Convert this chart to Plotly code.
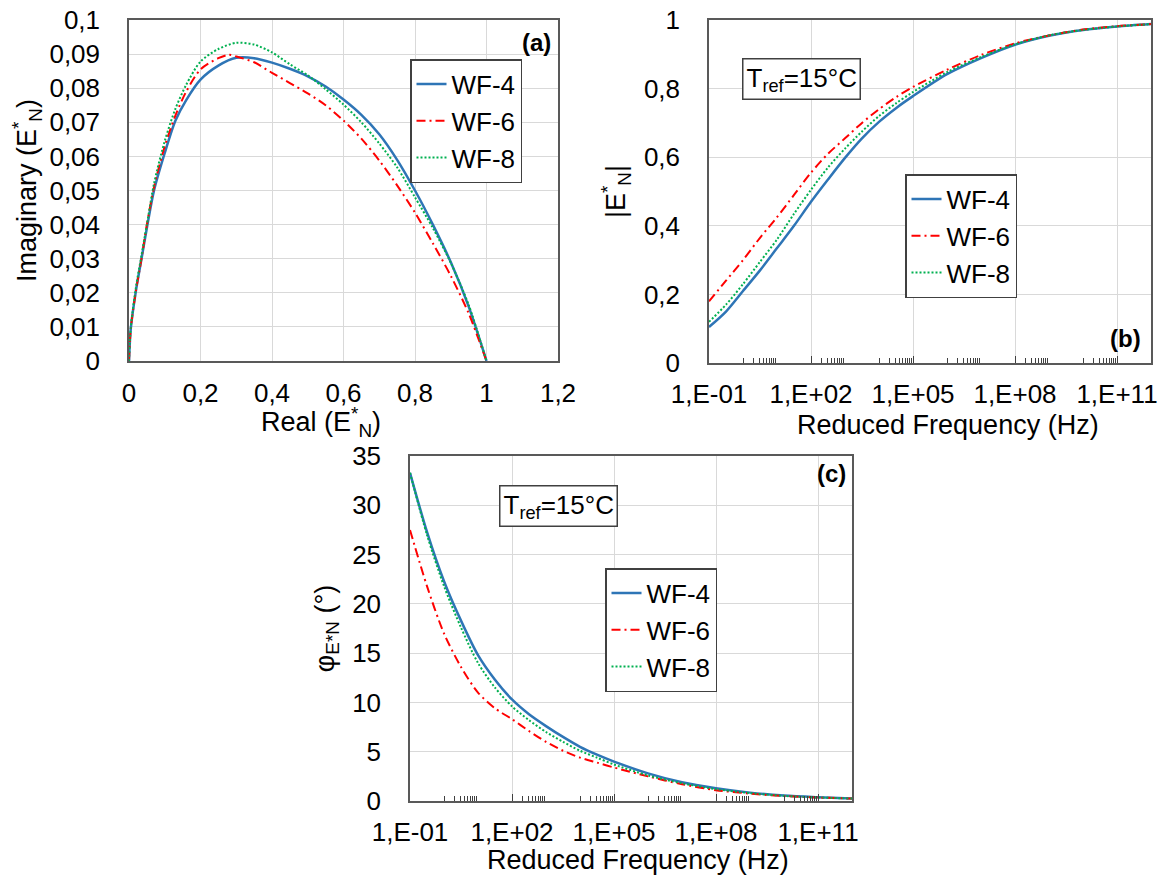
import plotly.graph_objects as go

# ---------------- data ----------------
series = ["WF-4", "WF-6", "WF-8"]
colors = ["#2E75B6", "#FF0000", "#00B050"]
dashes = ["solid", "9px,4px,2px,4px", "2px,2px"]
widths = [2.5, 2, 2]

# (a) Cole-Cole plane
real_wf4 = [0, 0.005, 0.02, 0.035, 0.05, 0.07, 0.1, 0.13, 0.16, 0.2, 0.25, 0.3, 0.35, 0.4,
            0.45, 0.5, 0.55, 0.6, 0.65, 0.7, 0.75, 0.8, 0.85, 0.9, 0.95, 1.0]
imag_wf4 = [0, 0.0095, 0.021, 0.030, 0.039, 0.050, 0.061, 0.0705, 0.0765, 0.0825, 0.0866, 0.0889,
            0.0888, 0.0875, 0.0857, 0.0835, 0.0805, 0.0767, 0.0722, 0.0665, 0.059, 0.050, 0.040,
            0.029, 0.016, 0]
real_wf6 = [0, 0.005, 0.02, 0.035, 0.05, 0.07, 0.1, 0.13, 0.16, 0.2, 0.25, 0.28, 0.3, 0.35, 0.4,
            0.45, 0.5, 0.55, 0.6, 0.65, 0.7, 0.75, 0.8, 0.85, 0.9, 0.95, 1.0]
imag_wf6 = [0, 0.0095, 0.021, 0.030, 0.040, 0.051, 0.063, 0.072, 0.079, 0.0855, 0.0888, 0.0898,
            0.0893, 0.0876, 0.0845, 0.0815, 0.0785, 0.075, 0.0705, 0.0652, 0.0588, 0.0515, 0.0435,
            0.0345, 0.025, 0.014, 0]
real_wf8 = [0, 0.005, 0.02, 0.035, 0.05, 0.07, 0.1, 0.13, 0.16, 0.2, 0.25, 0.3, 0.35, 0.4,
            0.45, 0.5, 0.55, 0.6, 0.65, 0.7, 0.75, 0.8, 0.85, 0.9, 0.95, 1.0]
imag_wf8 = [0, 0.0098, 0.022, 0.031, 0.040, 0.052, 0.0645, 0.074, 0.081, 0.0878, 0.0915, 0.0933,
            0.0928, 0.0905, 0.087, 0.0838, 0.0797, 0.0752, 0.070, 0.0638, 0.0568, 0.048, 0.039,
            0.0288, 0.0165, 0]

# reduced frequency (Hz)
freq = [0.1, 0.316, 1, 3.16, 10, 31.6, 100, 316, 1e3, 3.16e3, 1e4, 3.16e4, 1e5,
        1e6, 1e7, 1e8, 1e9, 1e10, 1e11, 1e12]

# (b) norm of normalized complex modulus
norm_wf4 = [0.105, 0.15, 0.21, 0.27, 0.335, 0.40, 0.47, 0.535, 0.598, 0.655, 0.703, 0.743,
            0.778, 0.842, 0.889, 0.928, 0.954, 0.971, 0.981, 0.988]
norm_wf6 = [0.18, 0.24, 0.30, 0.365, 0.425, 0.49, 0.555, 0.61, 0.655, 0.70, 0.74, 0.775,
            0.805, 0.855, 0.898, 0.932, 0.955, 0.972, 0.982, 0.988]
norm_wf8 = [0.12, 0.17, 0.23, 0.295, 0.36, 0.435, 0.505, 0.57, 0.625, 0.675, 0.72, 0.757,
            0.79, 0.848, 0.892, 0.929, 0.955, 0.971, 0.981, 0.988]

# (c) phase angle (deg)
phase_wf4 = [33.3, 27.3, 22.3, 18.3, 14.8, 12.3, 10.3, 8.8, 7.6, 6.5, 5.5, 4.7, 4.0,
             2.8, 1.9, 1.3, 0.85, 0.55, 0.38, 0.25]
phase_wf6 = [27.5, 21.8, 17.0, 13.6, 11.0, 9.4, 8.3, 7.1, 6.0, 5.1, 4.4, 3.9, 3.4,
             2.5, 1.7, 1.1, 0.75, 0.5, 0.35, 0.25]
phase_wf8 = [33.3, 27.0, 21.8, 17.6, 14.0, 11.5, 9.6, 8.2, 7.0, 6.0, 5.1, 4.4, 3.7,
             2.6, 1.8, 1.2, 0.8, 0.52, 0.36, 0.25]

freq_tickvals = [0.1, 100, 1e5, 1e8, 1e11]
freq_ticktext = ["1,E-01", "1,E+02", "1,E+05", "1,E+08", "1,E+11"]
minor_exps = [0, 2, 4, 6, 8, 10]
minor_mult = [1, 2, 3, 4, 5, 6, 7, 8, 9]

# ---------------- figure ----------------
OFF = 8                      # page body margin
W, H = 1165 - OFF, 876 - OFF
FONT = "Liberation Sans, Arial, sans-serif"
EPS = 1e-7


def fx(px):
    return (px - OFF) / W


def fy(py):
    return 1 - (py - OFF) / H


def dom_x(l, r):
    return [fx(l), fx(r)]


def dom_y(t, b):
    return [fy(b), fy(t)]


fig = go.Figure()

a_sets = [(real_wf4, imag_wf4), (real_wf6, imag_wf6), (real_wf8, imag_wf8)]
b_sets = [norm_wf4, norm_wf6, norm_wf8]
c_sets = [phase_wf4, phase_wf6, phase_wf8]

for i, name in enumerate(series):
    line = dict(color=colors[i], width=widths[i], dash=dashes[i], shape="spline", smoothing=0.8)
    fig.add_trace(go.Scatter(x=a_sets[i][0], y=a_sets[i][1], mode="lines", name=name,
                             line=line, xaxis="x", yaxis="y", legend="legend"))
    fig.add_trace(go.Scatter(x=freq, y=b_sets[i], mode="lines", name=name,
                             line=line, xaxis="x2", yaxis="y2", legend="legend2"))
    fig.add_trace(go.Scatter(x=freq, y=c_sets[i], mode="lines", name=name,
                             line=line, xaxis="x3", yaxis="y3", legend="legend3"))

minor_vals = [m * 10 ** e for e in minor_exps for m in minor_mult if m * 10 ** e not in freq_tickvals]

TICKF = dict(family=FONT, size=26, color="#000000")
TITF = dict(family=FONT, size=27, color="#000000")
common = dict(showline=True, mirror=True, linecolor="#595959", linewidth=1.5,
              showgrid=True, gridcolor="#d9d9d9", gridwidth=1, zeroline=False,
              tickfont=TICKF, automargin=False, ticklabeloverflow="allow")

logx = dict(type="log", range=[-1, 12], tickmode="array", tickvals=freq_tickvals,
            ticktext=freq_ticktext, ticks="inside", ticklen=7, tickcolor="#404040",
            minor=dict(tickmode="array", tickvals=minor_vals, ticks="inside", ticklen=5,
                       tickcolor="#404040", tickwidth=1, showgrid=False),
            ticklabelstandoff=7)

fig.update_layout(
    width=W, height=H, margin=dict(l=0, r=0, t=0, b=0),
    paper_bgcolor="white", plot_bgcolor="white",
    separators=",.",
    font=dict(family=FONT, size=26, color="#000000"),
    xaxis=dict(domain=dom_x(129, 558), range=[0, 1.2 + EPS], dtick=0.2, anchor="y",
               ticks="", ticklabelstandoff=8, **common),
    yaxis=dict(domain=dom_y(20, 361), range=[0, 0.1 + EPS], dtick=0.01, anchor="x",
               title=dict(text="Imaginary (E<sup>*</sup><sub>N</sub>)", font=TITF, standoff=10),
               ticks="", ticklabelstandoff=22, **common),
    xaxis2=dict(domain=dom_x(709, 1151), anchor="y2", **logx, **common),
    yaxis2=dict(domain=dom_y(20, 363), range=[0, 1 + EPS], dtick=0.2, anchor="x2",
                title=dict(text="|E<sup>*</sup><sub>N</sub>|", font=TITF, standoff=10),
                ticks="", ticklabelstandoff=22, **common),
    xaxis3=dict(domain=dom_x(410, 852), anchor="y3", **logx, **common),
    yaxis3=dict(domain=dom_y(456, 801), range=[0, 35 + EPS], dtick=5, anchor="x3",
                title=dict(text="φ<sub>E*N</sub> (°)", font=TITF, standoff=10),
                ticks="", ticklabelstandoff=22, **common),
)

# x-axis titles (placed close to the tick labels, as in the original)
xt = dict(xref="paper", yref="paper", showarrow=False, font=TITF,
          xanchor="center", yanchor="middle")
fig.add_annotation(text="Real (E<sup>*</sup><sub>N</sub>)", x=fx(321), y=fy(422), **xt)
fig.add_annotation(text="Reduced Frequency (Hz)", x=fx(948), y=fy(425), **xt)
fig.add_annotation(text="Reduced Frequency (Hz)", x=fx(638), y=fy(860), **xt)

legend_style = dict(bgcolor="white", bordercolor="#404040", borderwidth=1.5,
                    font=dict(family=FONT, size=26, color="#000000"),
                    xanchor="left", yanchor="top", tracegroupgap=0)
fig.update_layout(
    legend=dict(x=fx(410), y=fy(59), **legend_style),
    legend2=dict(x=fx(905), y=fy(174), **legend_style),
    legend3=dict(x=fx(605), y=fy(568), **legend_style),
)

ann_font = dict(family=FONT, size=24, color="#000000")
fig.add_annotation(text="<b>(a)</b>", xref="paper", yref="paper", x=fx(553), y=fy(42),
                   xanchor="right", yanchor="middle", showarrow=False, font=ann_font)
fig.add_annotation(text="<b>(b)</b>", xref="paper", yref="paper", x=fx(1143), y=fy(338),
                   xanchor="right", yanchor="middle", showarrow=False, font=ann_font)
fig.add_annotation(text="<b>(c)</b>", xref="paper", yref="paper", x=fx(848), y=fy(473),
                   xanchor="right", yanchor="middle", showarrow=False, font=ann_font)

tref = "T<sub>ref</sub>=15°C"
box = dict(bordercolor="#404040", borderwidth=1.5, borderpad=3, bgcolor="white",
           font=dict(family=FONT, size=26, color="#000000"), showarrow=False,
           xref="paper", yref="paper", xanchor="center", yanchor="middle")
fig.add_annotation(text=tref, x=fx(801), y=fy(79), **box)
fig.add_annotation(text=tref, x=fx(558), y=fy(506), **box)

fig.write_html("out.html")
